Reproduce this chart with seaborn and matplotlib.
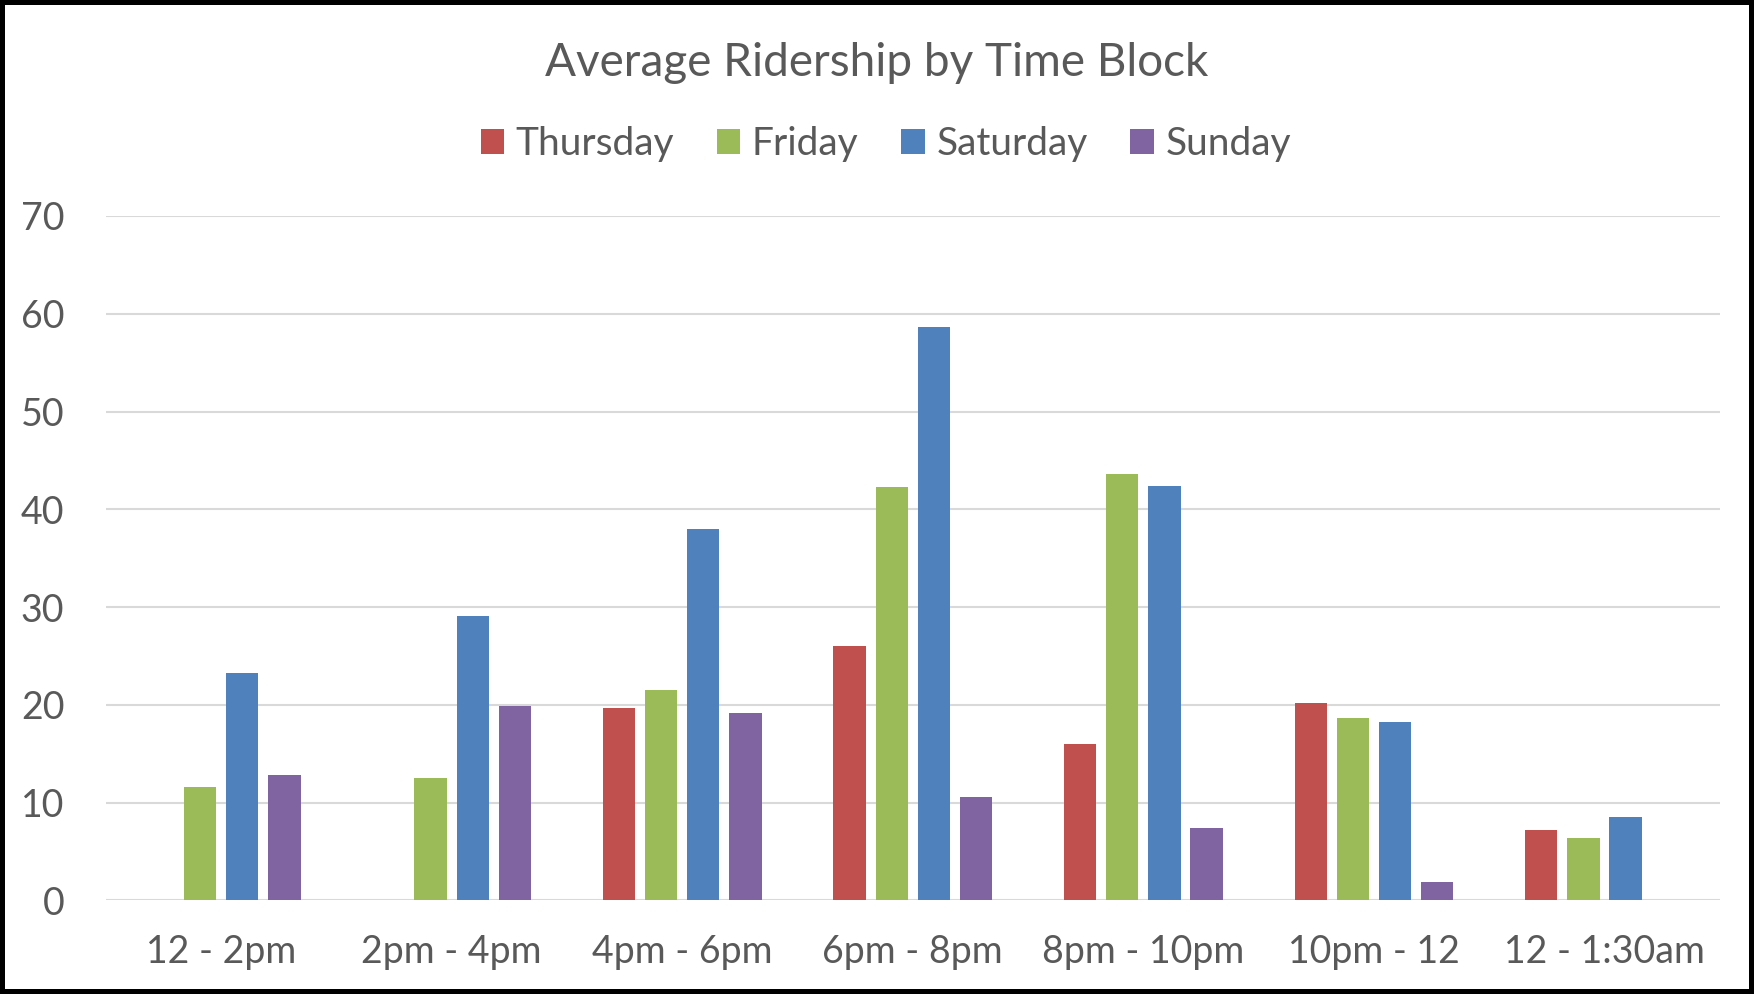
import numpy as np
import pandas as pd
import matplotlib.pyplot as plt
import seaborn as sns

# Data
time_blocks = ['12 - 2pm', '2pm - 4pm', '4pm - 6pm', '6pm - 8pm', '8pm - 10pm', '10pm - 12', '12 - 1:30am']
days = ['Thursday', 'Friday', 'Saturday', 'Sunday']
thursday = [np.nan, np.nan, 19.7, 26.0, 16.05, 20.2, 7.2]
friday = [11.6, 12.5, 21.5, 42.25, 43.6, 18.65, 6.35]
saturday = [23.3, 29.05, 37.95, 58.65, 42.4, 18.25, 8.55]
sunday = [12.8, 19.85, 19.2, 10.6, 7.4, 1.9, np.nan]
colors = ['#C0504D', '#9BBB59', '#4F81BD', '#8064A2']

df = pd.DataFrame({'block': time_blocks, 'Thursday': thursday, 'Friday': friday,
                   'Saturday': saturday, 'Sunday': sunday})
long_df = df.melt(id_vars='block', var_name='day', value_name='riders')

sns.set_style('white')
plt.rcParams['font.family'] = ['Lato', 'DejaVu Sans']
text_color = '#595959'

fig = plt.figure(figsize=(17.54, 9.94), dpi=100)
fig.patch.set_edgecolor('black')
fig.patch.set_linewidth(7)
ax = fig.add_axes([0.0604, 0.0941, 0.92, 0.6886])

sns.barplot(data=long_df, x='block', y='riders', hue='day', order=time_blocks,
            hue_order=days, palette=colors, saturation=1, width=0.73, gap=0.23,
            errorbar=None, linewidth=0, ax=ax)

ax.set_ylim(0, 70)
ax.set_xlim(-0.5, len(time_blocks) - 0.5)
ax.set_yticks(range(0, 71, 10))
ax.yaxis.grid(True, color='#D9D9D9', linewidth=1.5)
ax.set_axisbelow(True)
for s in ax.spines.values():
    s.set_visible(False)
ax.set_xlabel('')
ax.set_ylabel('')
ax.tick_params(axis='both', length=0, labelsize=27, labelcolor=text_color)
ax.tick_params(axis='x', pad=24)
ax.tick_params(axis='y', pad=30)

handles, labels = ax.get_legend_handles_labels()
ax.legend_.remove()
fig.legend(handles, labels, loc='center', bbox_to_anchor=(0.505, 0.855), ncol=4,
           frameon=False, fontsize=28, labelcolor=text_color, handlelength=0.6,
           handleheight=0.6, handletextpad=0.3, columnspacing=1.1)

fig.text(0.5, 0.937, 'Average Ridership by Time Block', ha='center', va='center',
         fontsize=33, color=text_color)

fig.savefig('out.png', dpi=100, facecolor='white', edgecolor='black')
